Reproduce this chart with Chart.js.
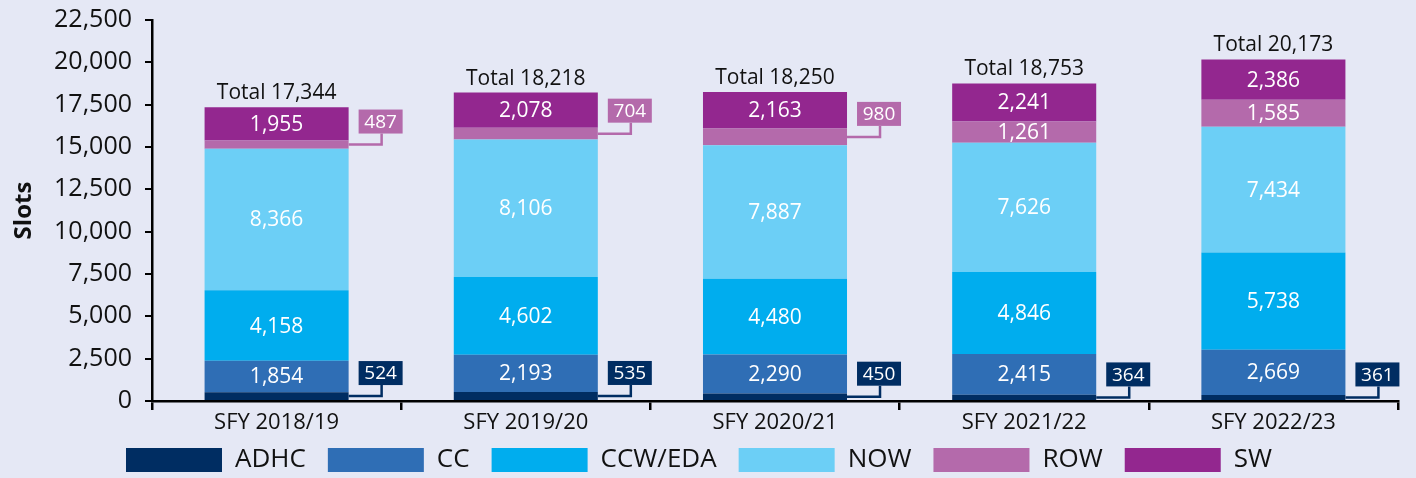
<!DOCTYPE html>
<html>
<head>
<meta charset="utf-8">
<script src="https://cdn.jsdelivr.net/npm/chart.js@4.4.0/dist/chart.umd.min.js"></script>
<style>
  html, body { margin: 0; padding: 0; background: #e5e8f5; }
  #wrap { width: 1416px; height: 478px; position: relative; }
</style>
</head>
<body>
<div id="wrap"><canvas id="slots"></canvas></div>
<script>
const years = ['SFY 2018/19', 'SFY 2019/20', 'SFY 2020/21', 'SFY 2021/22', 'SFY 2022/23'];
const adhc = [524, 535, 450, 364, 361];
const cc = [1854, 2193, 2290, 2415, 2669];
const ccwEda = [4158, 4602, 4480, 4846, 5738];
const now = [8366, 8106, 7887, 7626, 7434];
const row = [487, 704, 980, 1261, 1585];
const sw = [1955, 2078, 2163, 2241, 2386];
const totals = [17344, 18218, 18250, 18753, 20173];
const yMax = 22500;
const yStep = 2500;

const fmt = v => v.toLocaleString('en-US');
const FONT = '"Open Sans", "Noto Sans", sans-serif';

// white labels inside the segments, little boxes beside the thin ones, totals on top
const segmentLabels = {
    id: 'segmentLabels',
    afterDatasetsDraw(chart) {
        const ctx = chart.ctx;
        ctx.save();
        chart.data.datasets.forEach((ds, di) => {
            const meta = chart.getDatasetMeta(di);
            meta.data.forEach((bar, i) => {
                const {x, y, base, width} = bar.getProps(['x', 'y', 'base', 'width'], true);
                const h = base - y;
                const mid = (y + base) / 2;
                const text = fmt(ds.data[i]);
                ctx.textAlign = 'center';
                ctx.textBaseline = 'middle';
                if (h >= 20) {
                    ctx.fillStyle = '#fff';
                    ctx.font = '21px ' + FONT;
                    ctx.fillText(text, x, mid + 1);
                } else {
                    const right = x + width / 2;
                    const bw = 44, bh = 24;
                    const bx = right + 10;
                    const bb = mid - 11;
                    const lx = bx + bw / 2 + 1;
                    ctx.strokeStyle = ds.backgroundColor;
                    ctx.lineWidth = 2.5;
                    ctx.beginPath();
                    ctx.moveTo(right, mid);
                    ctx.lineTo(lx, mid);
                    ctx.lineTo(lx, bb);
                    ctx.stroke();
                    ctx.fillStyle = ds.backgroundColor;
                    ctx.fillRect(bx, bb - bh, bw, bh);
                    ctx.fillStyle = '#fff';
                    ctx.font = '19px ' + FONT;
                    ctx.fillText(text, bx + bw / 2, bb - bh / 2 + 1);
                }
            });
        });
        const topMeta = chart.getDatasetMeta(chart.data.datasets.length - 1);
        topMeta.data.forEach((bar, i) => {
            ctx.fillStyle = '#111';
            ctx.font = '21px ' + FONT;
            ctx.textAlign = 'center';
            ctx.textBaseline = 'alphabetic';
            ctx.fillText('Total ' + fmt(totals[i]), bar.x, bar.y - 8);
        });
        ctx.restore();
    }
};

// the x axis box is kept short so the legend sits close; let its labels draw below it
const unclipX = {
    id: 'unclipX',
    afterLayout(chart) {
        const x = chart.scales.x;
        x.bottom = x.top + 40;
    }
};

const series = [
    {label: 'ADHC', data: adhc, color: '#002d62'},
    {label: 'CC', data: cc, color: '#2f6eb5'},
    {label: 'CCW/EDA', data: ccwEda, color: '#00adee'},
    {label: 'NOW', data: now, color: '#6ccff6'},
    {label: 'ROW', data: row, color: '#b46aab'},
    {label: 'SW', data: sw, color: '#93278f'}
];

new Chart(document.getElementById('slots'), {
    type: 'bar',
    data: {
        labels: years,
        datasets: series.map(s => ({
            label: s.label,
            data: s.data,
            backgroundColor: s.color,
            borderWidth: 0,
            categoryPercentage: 1,
            barPercentage: 0.578
        }))
    },
    options: {
        responsive: true,
        maintainAspectRatio: false,
        animation: false,
        layout: {
            padding: {top: 20, right: 18, bottom: -5, left: 0}
        },
        plugins: {
            legend: {
                position: 'bottom',
                labels: {
                    boxWidth: 96,
                    boxHeight: 24,
                    padding: 22,
                    color: '#111',
                    font: {family: FONT, size: 26}
                }
            },
            tooltip: {enabled: false}
        },
        scales: {
            x: {
                stacked: true,
                grid: {
                    offset: true,
                    drawOnChartArea: false,
                    drawTicks: true,
                    tickLength: 9,
                    color: '#000',
                    lineWidth: 2.5
                },
                border: {color: '#000', width: 2.5},
                ticks: {
                    color: '#111',
                    padding: 0,
                    font: {family: FONT, size: 22}
                },
                afterFit: (scale) => { scale.height = 24 }
            },
            y: {
                stacked: true,
                min: 0,
                max: yMax,
                grid: {
                    drawOnChartArea: false,
                    drawTicks: true,
                    tickLength: 7,
                    color: '#000',
                    lineWidth: 2
                },
                border: {color: '#000', width: 2.5},
                ticks: {
                    stepSize: yStep,
                    color: '#111',
                    padding: 13,
                    font: {family: FONT, size: 25},
                    callback: (val) => fmt(val)
                },
                title: {
                    display: true,
                    text: 'Slots',
                    color: '#111',
                    padding: {top: 10, bottom: 0},
                    font: {family: FONT, size: 24, weight: 'bold'}
                },
                afterFit: (scale) => {
                    scale.width = 152;
                    scale.paddingTop = 0;
                    scale.paddingBottom = 0;
                }
            }
        }
    },
    plugins: [segmentLabels, unclipX]
});
</script>
</body>
</html>
